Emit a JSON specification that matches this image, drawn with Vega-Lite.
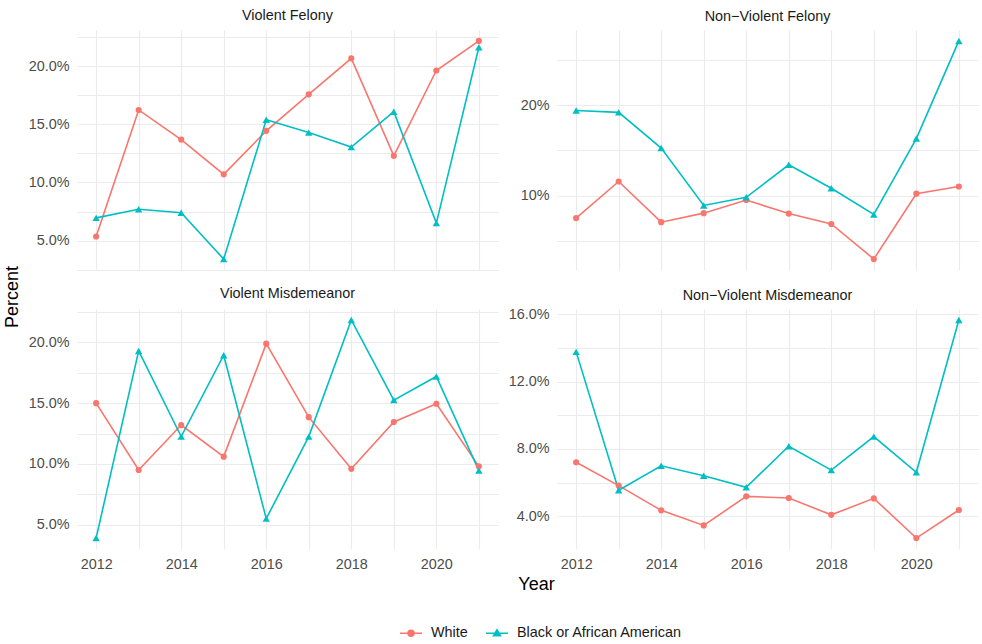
{
  "$schema": "https://vega.github.io/schema/vega-lite/v6.json",
  "padding": {"left": 4, "right": 1, "top": 8, "bottom": 0},
  "title": {"text": "Percent", "orient": "left", "anchor": "middle", "fontSize": 18, "fontWeight": "normal", "color": "#000000", "offset": 6, "dx": 27},
  "data": {"values": [
    {"cat": "Violent Felony", "race": "White", "year": 2012, "pct": 5.35},
    {"cat": "Violent Felony", "race": "White", "year": 2013, "pct": 16.25},
    {"cat": "Violent Felony", "race": "White", "year": 2014, "pct": 13.7},
    {"cat": "Violent Felony", "race": "White", "year": 2015, "pct": 10.7},
    {"cat": "Violent Felony", "race": "White", "year": 2016, "pct": 14.45},
    {"cat": "Violent Felony", "race": "White", "year": 2017, "pct": 17.6},
    {"cat": "Violent Felony", "race": "White", "year": 2018, "pct": 20.7},
    {"cat": "Violent Felony", "race": "White", "year": 2019, "pct": 12.3},
    {"cat": "Violent Felony", "race": "White", "year": 2020, "pct": 19.65},
    {"cat": "Violent Felony", "race": "White", "year": 2021, "pct": 22.2},
    {"cat": "Violent Felony", "race": "Black or African American", "year": 2012, "pct": 6.95},
    {"cat": "Violent Felony", "race": "Black or African American", "year": 2013, "pct": 7.7},
    {"cat": "Violent Felony", "race": "Black or African American", "year": 2014, "pct": 7.4},
    {"cat": "Violent Felony", "race": "Black or African American", "year": 2015, "pct": 3.4},
    {"cat": "Violent Felony", "race": "Black or African American", "year": 2016, "pct": 15.4},
    {"cat": "Violent Felony", "race": "Black or African American", "year": 2017, "pct": 14.3},
    {"cat": "Violent Felony", "race": "Black or African American", "year": 2018, "pct": 13.05},
    {"cat": "Violent Felony", "race": "Black or African American", "year": 2019, "pct": 16.1},
    {"cat": "Violent Felony", "race": "Black or African American", "year": 2020, "pct": 6.5},
    {"cat": "Violent Felony", "race": "Black or African American", "year": 2021, "pct": 21.65},
    {"cat": "Non-Violent Felony", "race": "White", "year": 2012, "pct": 7.5},
    {"cat": "Non-Violent Felony", "race": "White", "year": 2013, "pct": 11.55},
    {"cat": "Non-Violent Felony", "race": "White", "year": 2014, "pct": 7.05},
    {"cat": "Non-Violent Felony", "race": "White", "year": 2015, "pct": 8.05},
    {"cat": "Non-Violent Felony", "race": "White", "year": 2016, "pct": 9.5},
    {"cat": "Non-Violent Felony", "race": "White", "year": 2017, "pct": 8.0},
    {"cat": "Non-Violent Felony", "race": "White", "year": 2018, "pct": 6.85},
    {"cat": "Non-Violent Felony", "race": "White", "year": 2019, "pct": 2.97},
    {"cat": "Non-Violent Felony", "race": "White", "year": 2020, "pct": 10.2},
    {"cat": "Non-Violent Felony", "race": "White", "year": 2021, "pct": 11.0},
    {"cat": "Non-Violent Felony", "race": "Black or African American", "year": 2012, "pct": 19.4},
    {"cat": "Non-Violent Felony", "race": "Black or African American", "year": 2013, "pct": 19.2},
    {"cat": "Non-Violent Felony", "race": "Black or African American", "year": 2014, "pct": 15.25},
    {"cat": "Non-Violent Felony", "race": "Black or African American", "year": 2015, "pct": 8.9},
    {"cat": "Non-Violent Felony", "race": "Black or African American", "year": 2016, "pct": 9.8},
    {"cat": "Non-Violent Felony", "race": "Black or African American", "year": 2017, "pct": 13.4},
    {"cat": "Non-Violent Felony", "race": "Black or African American", "year": 2018, "pct": 10.8},
    {"cat": "Non-Violent Felony", "race": "Black or African American", "year": 2019, "pct": 7.9},
    {"cat": "Non-Violent Felony", "race": "Black or African American", "year": 2020, "pct": 16.3},
    {"cat": "Non-Violent Felony", "race": "Black or African American", "year": 2021, "pct": 27.1},
    {"cat": "Violent Misdemeanor", "race": "White", "year": 2012, "pct": 15.0},
    {"cat": "Violent Misdemeanor", "race": "White", "year": 2013, "pct": 9.5},
    {"cat": "Violent Misdemeanor", "race": "White", "year": 2014, "pct": 13.2},
    {"cat": "Violent Misdemeanor", "race": "White", "year": 2015, "pct": 10.6},
    {"cat": "Violent Misdemeanor", "race": "White", "year": 2016, "pct": 19.9},
    {"cat": "Violent Misdemeanor", "race": "White", "year": 2017, "pct": 13.85},
    {"cat": "Violent Misdemeanor", "race": "White", "year": 2018, "pct": 9.6},
    {"cat": "Violent Misdemeanor", "race": "White", "year": 2019, "pct": 13.45},
    {"cat": "Violent Misdemeanor", "race": "White", "year": 2020, "pct": 14.95},
    {"cat": "Violent Misdemeanor", "race": "White", "year": 2021, "pct": 9.8},
    {"cat": "Violent Misdemeanor", "race": "Black or African American", "year": 2012, "pct": 3.9},
    {"cat": "Violent Misdemeanor", "race": "Black or African American", "year": 2013, "pct": 19.3},
    {"cat": "Violent Misdemeanor", "race": "Black or African American", "year": 2014, "pct": 12.25},
    {"cat": "Violent Misdemeanor", "race": "Black or African American", "year": 2015, "pct": 18.95},
    {"cat": "Violent Misdemeanor", "race": "Black or African American", "year": 2016, "pct": 5.5},
    {"cat": "Violent Misdemeanor", "race": "Black or African American", "year": 2017, "pct": 12.25},
    {"cat": "Violent Misdemeanor", "race": "Black or African American", "year": 2018, "pct": 21.85},
    {"cat": "Violent Misdemeanor", "race": "Black or African American", "year": 2019, "pct": 15.25},
    {"cat": "Violent Misdemeanor", "race": "Black or African American", "year": 2020, "pct": 17.2},
    {"cat": "Violent Misdemeanor", "race": "Black or African American", "year": 2021, "pct": 9.45},
    {"cat": "Non-Violent Misdemeanor", "race": "White", "year": 2012, "pct": 7.21},
    {"cat": "Non-Violent Misdemeanor", "race": "White", "year": 2013, "pct": 5.82},
    {"cat": "Non-Violent Misdemeanor", "race": "White", "year": 2014, "pct": 4.35},
    {"cat": "Non-Violent Misdemeanor", "race": "White", "year": 2015, "pct": 3.45},
    {"cat": "Non-Violent Misdemeanor", "race": "White", "year": 2016, "pct": 5.18},
    {"cat": "Non-Violent Misdemeanor", "race": "White", "year": 2017, "pct": 5.08},
    {"cat": "Non-Violent Misdemeanor", "race": "White", "year": 2018, "pct": 4.08},
    {"cat": "Non-Violent Misdemeanor", "race": "White", "year": 2019, "pct": 5.06},
    {"cat": "Non-Violent Misdemeanor", "race": "White", "year": 2020, "pct": 2.7},
    {"cat": "Non-Violent Misdemeanor", "race": "White", "year": 2021, "pct": 4.37},
    {"cat": "Non-Violent Misdemeanor", "race": "Black or African American", "year": 2012, "pct": 13.77},
    {"cat": "Non-Violent Misdemeanor", "race": "Black or African American", "year": 2013, "pct": 5.54},
    {"cat": "Non-Violent Misdemeanor", "race": "Black or African American", "year": 2014, "pct": 7.0},
    {"cat": "Non-Violent Misdemeanor", "race": "Black or African American", "year": 2015, "pct": 6.41},
    {"cat": "Non-Violent Misdemeanor", "race": "Black or African American", "year": 2016, "pct": 5.72},
    {"cat": "Non-Violent Misdemeanor", "race": "Black or African American", "year": 2017, "pct": 8.16},
    {"cat": "Non-Violent Misdemeanor", "race": "Black or African American", "year": 2018, "pct": 6.74},
    {"cat": "Non-Violent Misdemeanor", "race": "Black or African American", "year": 2019, "pct": 8.73},
    {"cat": "Non-Violent Misdemeanor", "race": "Black or African American", "year": 2020, "pct": 6.61},
    {"cat": "Non-Violent Misdemeanor", "race": "Black or African American", "year": 2021, "pct": 15.67}
  ]},
  "columns": 2,
  "spacing": {"row": 9, "column": 10},
  "concat": [
    {
      "title": {"text": "Violent Felony", "offset": 6},
      "width": 421, "height": 240,
      "transform": [{"filter": "datum.cat === 'Violent Felony'"}],
      "encoding": {
        "x": {"field": "year", "type": "quantitative", "scale": {"domain": [2011.55, 2021.45], "nice": false, "zero": false},
              "axis": {"values": [2012,2013,2014,2015,2016,2017,2018,2019,2020,2021], "labels": false, "title": null}},
        "y": {"field": "pct", "type": "quantitative", "scale": {"domain": [2.46, 23.14], "nice": false, "zero": false},
              "axis": {"values": [2.5,5,7.5,10,12.5,15,17.5,20,22.5], "labelExpr": "datum.value % 5 === 0 ? format(datum.value, '.1f') + '%' : ''", "title": null}}
      },
      "layer": [
        {"mark": {"type": "line", "strokeWidth": 1.6},
         "encoding": {"color": {"field": "race", "type": "nominal", "scale": {"domain": ["White", "Black or African American"], "range": ["#F8766D", "#00BFC4"]},
                  "legend": {"title": null, "orient": "none", "legendX": 326, "legendY": 595, "direction": "horizontal", "symbolSize": 190, "labelOffset": 12, "columnPadding": 14, "labelLimit": 400,
                    "encode": {"symbols": {"update": {
                      "shape": {"signal": "datum.value === 'White' ? 'M-1.6,0L1.6,0M0.43,0A0.43,0.43,0,1,1,-0.43,0A0.43,0.43,0,1,1,0.43,0Z' : 'M-1.6,0L1.6,0M0,-0.5L0.5,0.35L-0.5,0.35Z'"},
                      "fill": {"signal": "datum.value === 'White' ? '#F8766D' : '#00BFC4'"},
                      "stroke": {"signal": "datum.value === 'White' ? '#F8766D' : '#00BFC4'"},
                      "strokeWidth": {"value": 1.6}, "opacity": {"value": 1}}}}}}}},
        {"transform": [{"filter": "datum.race === 'White'"}],
         "mark": {"type": "point", "filled": true, "shape": "circle", "size": 38, "opacity": 1},
         "encoding": {"color": {"field": "race", "type": "nominal", "legend": null}}},
        {"transform": [{"filter": "datum.race !== 'White'"}],
         "mark": {"type": "point", "filled": true, "shape": "triangle-up", "size": 55, "opacity": 1},
         "encoding": {"color": {"field": "race", "type": "nominal", "legend": null}}}
      ]
    },
    {
      "title": {"text": "Non\u2212Violent Felony", "offset": 6},
      "width": 421, "height": 240,
      "transform": [{"filter": "datum.cat === 'Non-Violent Felony'"}],
      "encoding": {
        "x": {"field": "year", "type": "quantitative", "scale": {"domain": [2011.55, 2021.45], "nice": false, "zero": false},
              "axis": {"values": [2012,2013,2014,2015,2016,2017,2018,2019,2020,2021], "labels": false, "title": null}},
        "y": {"field": "pct", "type": "quantitative", "scale": {"domain": [1.76, 28.31], "nice": false, "zero": false},
              "axis": {"values": [5,10,15,20,25], "labelExpr": "datum.value % 10 === 0 ? format(datum.value, '.0f') + '%' : ''", "title": null}}
      },
      "layer": [
        {"mark": {"type": "line", "strokeWidth": 1.6},
         "encoding": {"color": {"field": "race", "type": "nominal", "legend": null}}},
        {"transform": [{"filter": "datum.race === 'White'"}],
         "mark": {"type": "point", "filled": true, "shape": "circle", "size": 38, "opacity": 1},
         "encoding": {"color": {"field": "race", "type": "nominal", "legend": null}}},
        {"transform": [{"filter": "datum.race !== 'White'"}],
         "mark": {"type": "point", "filled": true, "shape": "triangle-up", "size": 55, "opacity": 1},
         "encoding": {"color": {"field": "race", "type": "nominal", "legend": null}}}
      ]
    },
    {
      "title": {"text": "Violent Misdemeanor", "offset": 3},
      "width": 421, "height": 240,
      "transform": [{"filter": "datum.cat === 'Violent Misdemeanor'"}],
      "encoding": {
        "x": {"field": "year", "type": "quantitative", "scale": {"domain": [2011.55, 2021.45], "nice": false, "zero": false},
              "axis": {"values": [2012,2013,2014,2015,2016,2017,2018,2019,2020,2021], "labelExpr": "datum.value % 2 === 0 ? format(datum.value, 'd') : ''", "title": null}},
        "y": {"field": "pct", "type": "quantitative", "scale": {"domain": [3.0, 22.75], "nice": false, "zero": false},
              "axis": {"values": [5,7.5,10,12.5,15,17.5,20,22.5], "labelExpr": "datum.value % 5 === 0 ? format(datum.value, '.1f') + '%' : ''", "title": null}}
      },
      "layer": [
        {"mark": {"type": "line", "strokeWidth": 1.6},
         "encoding": {"color": {"field": "race", "type": "nominal", "legend": null}}},
        {"transform": [{"filter": "datum.race === 'White'"}],
         "mark": {"type": "point", "filled": true, "shape": "circle", "size": 38, "opacity": 1},
         "encoding": {"color": {"field": "race", "type": "nominal", "legend": null}}},
        {"transform": [{"filter": "datum.race !== 'White'"}],
         "mark": {"type": "point", "filled": true, "shape": "triangle-up", "size": 55, "opacity": 1},
         "encoding": {"color": {"field": "race", "type": "nominal", "legend": null}}}
      ]
    },
    {
      "title": {"text": "Non\u2212Violent Misdemeanor", "offset": 3},
      "width": 421, "height": 240,
      "transform": [{"filter": "datum.cat === 'Non-Violent Misdemeanor'"}],
      "encoding": {
        "x": {"field": "year", "type": "quantitative", "scale": {"domain": [2011.55, 2021.45], "nice": false, "zero": false},
              "axis": {"values": [2012,2013,2014,2015,2016,2017,2018,2019,2020,2021], "labelExpr": "datum.value % 2 === 0 ? format(datum.value, 'd') : ''",
                       "title": "Year", "titleX": -21, "titleFontSize": 18, "titleFontWeight": "normal", "titleColor": "#000000", "titlePadding": 5}},
        "y": {"field": "pct", "type": "quantitative", "scale": {"domain": [2.05, 16.32], "nice": false, "zero": false},
              "axis": {"values": [4,6,8,10,12,14,16], "labelExpr": "datum.value % 4 === 0 ? format(datum.value, '.1f') + '%' : ''", "title": null}}
      },
      "layer": [
        {"mark": {"type": "line", "strokeWidth": 1.6},
         "encoding": {"color": {"field": "race", "type": "nominal", "legend": null}}},
        {"transform": [{"filter": "datum.race === 'White'"}],
         "mark": {"type": "point", "filled": true, "shape": "circle", "size": 38, "opacity": 1},
         "encoding": {"color": {"field": "race", "type": "nominal", "legend": null}}},
        {"transform": [{"filter": "datum.race !== 'White'"}],
         "mark": {"type": "point", "filled": true, "shape": "triangle-up", "size": 55, "opacity": 1},
         "encoding": {"color": {"field": "race", "type": "nominal", "legend": null}}}
      ]
    }
  ],
  "config": {
    "font": "Liberation Sans",
    "background": "#ffffff",
    "view": {"stroke": null},
    "title": {"fontSize": 14.4, "fontWeight": "normal", "color": "#1A1A1A", "anchor": "middle"},
    "axis": {"domain": false, "ticks": false, "grid": true, "gridColor": "#EBEBEB", "gridWidth": 1.1,
             "labelFontSize": 14.4, "labelColor": "#4D4D4D", "labelPadding": 8, "labelFlush": false, "labelOverlap": false},
    "legend": {"labelFontSize": 14.4, "labelColor": "#1A1A1A"}
  }
}
